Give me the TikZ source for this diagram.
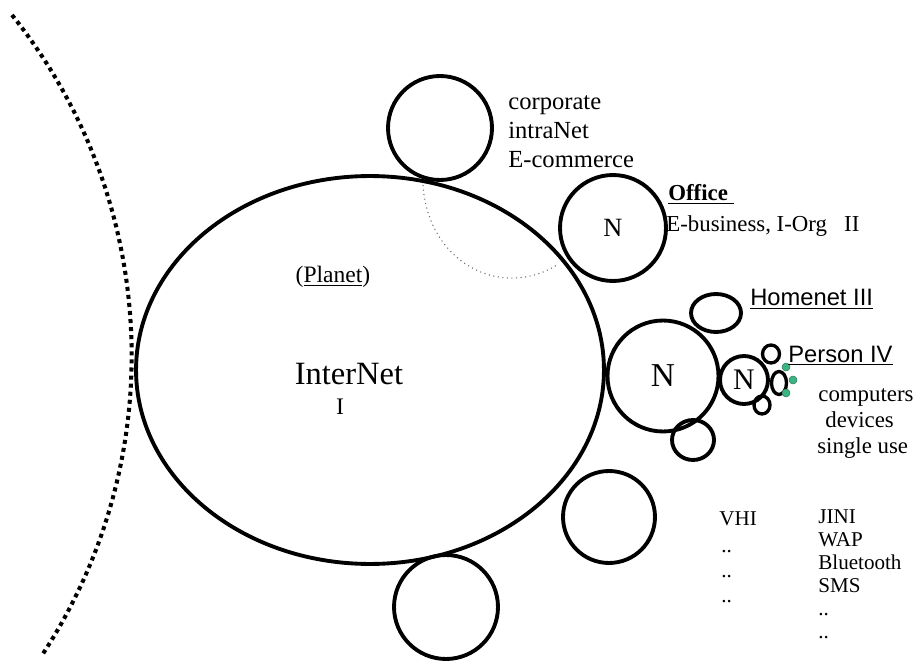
\documentclass[tikz,border=0pt]{standalone}
\usepackage{fontspec}
\setmainfont{Liberation Serif}
\newfontfamily\hsans{Liberation Sans}
\usetikzlibrary{shapes.geometric}
\definecolor{devgreen}{RGB}{60,180,130}
\tikzset{ring/.style={draw,circle,line width=2.2pt,inner sep=0pt},
  oval/.style={draw,ellipse,line width=2.2pt,inner sep=0pt},
  gdot/.style={circle,fill=devgreen,draw=devgreen!70!black,line width=0.3pt,minimum size=0.16cm,inner sep=0pt},
  txt/.style={inner sep=0pt,anchor=base west,font=\fontsize{14}{16}\selectfont},
  small/.style={txt,font=\fontsize{12}{14}\selectfont}}
\begin{document}
\begin{tikzpicture}[x=0.02cm,y=-0.02cm]
    \useasboundingbox (0,0) rectangle (913,662);
    % edge of the world
    \draw[line width=2.3pt,dash pattern=on 2.3pt off 2.3pt] (12,15) arc[start angle=-38.7,end angle=33.5,radius=545];
    % internet and its neighbours
    \node[oval,minimum width=9.36cm,minimum height=7.76cm] (planet) at (370,370) {};
    \node[ring,minimum size=2.08cm] (corp) at (440,128) {};
    \node[ring,minimum size=2.12cm,font=\fontsize{15}{15}\selectfont] (office) at (613,228) {N};
    \node[ring,minimum size=2.22cm,font=\fontsize{19}{19}\selectfont] (home) at (663,376) {N};
    \node[oval,minimum width=1.0cm,minimum height=0.76cm] (homeup) at (716,313) {};
    \node[oval,minimum width=0.84cm,minimum height=0.80cm] (homedown) at (693,440) {};
    \node[ring,minimum size=0.96cm,font=\fontsize{17}{17}\selectfont] (person) at (744,380) {N};
    \node[oval,line width=1.9pt,minimum width=0.34cm,minimum height=0.36cm] (dev1) at (771,354) {};
    \node[oval,line width=1.9pt,minimum width=0.30cm,minimum height=0.46cm] (dev2) at (779,383) {};
    \node[oval,line width=1.9pt,minimum width=0.32cm,minimum height=0.36cm] (dev3) at (762,405) {};
    \node[gdot] (g1) at (786,367) {};
    \node[gdot] (g2) at (793,380) {};
    \node[gdot] (g3) at (786,393) {};
    \node[ring,minimum size=1.84cm] (vhi) at (609,517) {};
    \node[ring,minimum size=2.08cm] (low) at (446,607) {};
    \coordinate (ca) at (423,185);
    \coordinate (cb) at (557,265);
    \draw[gray!80!black,line width=0.6pt,dotted] (ca) .. controls (428,262) and (500,300) .. (cb);
    % labels
    \foreach \t [count=\i] in {corporate,intraNet,E-commerce}
      \node[txt] (corp\i) at (508,81+29*\i) {\t};
    \node[txt,font=\fontsize{13}{15}\bfseries] (officelbl) at (668,201) {\underline{Office\ }};
    \node[txt,font=\fontsize{13}{15}\selectfont] (officesub) at (666,232) {E-business, I-Org\ \ \ II};
    \node[txt,anchor=base,font=\fontsize{13.4}{15}\selectfont] (planetlbl) at (333,283) {(\underline{Planet})};
    \node[txt,anchor=base,font=\fontsize{18.5}{20}\selectfont] (netlbl) at (349,384) {InterNet};
    \node[txt,anchor=base,font=\fontsize{13.5}{15}\selectfont] (netnum) at (340,414) {I};
    \node[txt,font=\fontsize{13.5}{15}\hsans] (homelbl) at (750,306) {\underline{Homenet III}};
    \node[txt,font=\fontsize{13.5}{15}\hsans] (personlbl) at (788,362) {\underline{Person IV}};
    \node[txt,font=\fontsize{13}{15}\selectfont] (use1) at (818,401) {computers};
    \node[txt,font=\fontsize{13}{15}\selectfont] (use2) at (825,427) {devices};
    \node[txt,font=\fontsize{13}{15}\selectfont] (use3) at (817,453) {single use};
    \node[small] (vhilbl) at (719,525) {VHI};
    \foreach \i in {1,2,3}
      \node[small] (vdots\i) at (721,527+25*\i) {..};
    \foreach \t [count=\i] in {JINI,WAP,Bluetooth,SMS,..,..}
      \node[small] (proto\i) at (818,500+23*\i) {\t};
\end{tikzpicture}
\end{document}
